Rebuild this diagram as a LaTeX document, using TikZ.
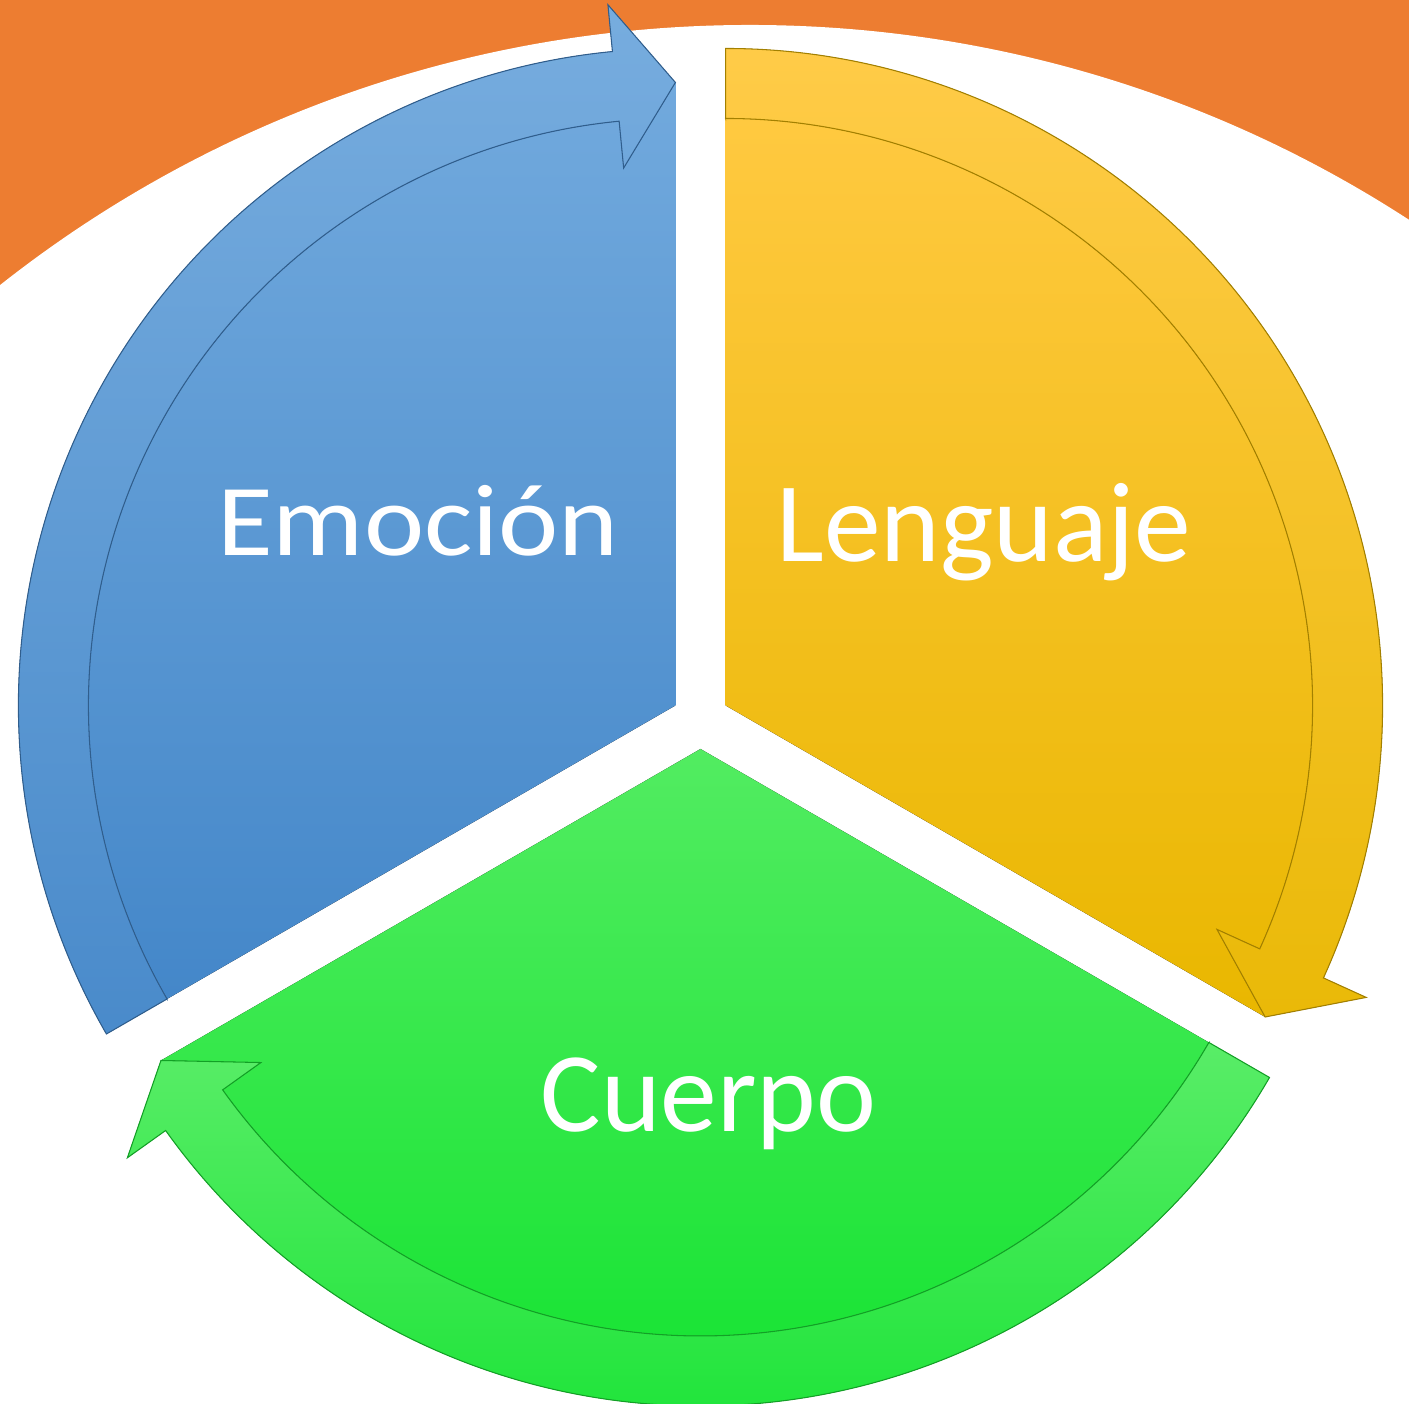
\documentclass[tikz,border=0pt]{standalone}
\usepackage{fontspec}
\setmainfont{Carlito}
\definecolor{orangebg}{HTML}{ED7D31}
\definecolor{bluetop}{HTML}{71A9DD}
\definecolor{bluebot}{HTML}{4487C9}
\definecolor{yellowtop}{HTML}{FFC940}
\definecolor{yellowbot}{HTML}{E9B700}
\definecolor{greentop}{HTML}{52EC61}
\definecolor{greenbot}{HTML}{1BE436}
\tikzset{
  segbody/.style={shading=axis,shading angle=0,top color=#1top,bottom color=#1bot},
  segband/.style={shading=axis,shading angle=0,top color=#1top!96!white,bottom color=#1bot!97!white,
    draw=#1bot!70!black,line width=0.3pt},
  seglabel/.style={anchor=base,text=white,font=\fontsize{32.3}{36}\selectfont}
}
\begin{document}
\begin{tikzpicture}
\useasboundingbox (0,0) rectangle (14.09,14.04);
% background
\begin{scope}
\clip (0,0) rectangle (14.09,14.04);
\fill[orangebg] (0,0) rectangle (14.09,14.04);
\fill[white] (7.50,1.68) circle (12.11);
\end{scope}
% Emocion
\begin{scope}[shift={(6.754,6.985)}]
\fill[segbody=blue] (0,0) -- (210:5.87) arc[start angle=210,end angle=95.5,radius=5.87] -- (90:6.23) -- cycle;
\filldraw[segband=blue] (210:5.87) -- (210:6.57) arc[start angle=210,end angle=95.5,radius=6.57]
  -- (95.5:7.04) -- (90:6.23) -- (95.5:5.40) -- (95.5:5.87)
  arc[start angle=95.5,end angle=210,radius=5.87] -- cycle;
\end{scope}
% Lenguaje
\begin{scope}[shift={(7.256,6.985)}]
\fill[segbody=yellow] (0,0) -- (90:5.87) arc[start angle=90,end angle=-24.5,radius=5.87] -- (-30:6.23) -- cycle;
\filldraw[segband=yellow] (90:5.87) -- (90:6.57) arc[start angle=90,end angle=-24.5,radius=6.57]
  -- (-24.5:7.04) -- (-30:6.23) -- (-24.5:5.40) -- (-24.5:5.87)
  arc[start angle=-24.5,end angle=90,radius=5.87] -- cycle;
\end{scope}
% Cuerpo
\begin{scope}[shift={(7.005,6.55)}]
\fill[segbody=green] (0,0) -- (330:5.87) arc[start angle=330,end angle=215.5,radius=5.87] -- (210:6.23) -- cycle;
\filldraw[segband=green] (330:5.87) -- (330:6.57) arc[start angle=330,end angle=215.5,radius=6.57]
  -- (215.5:7.04) -- (210:6.23) -- (215.5:5.40) -- (215.5:5.87)
  arc[start angle=215.5,end angle=330,radius=5.87] -- cycle;
\end{scope}
\node (emocion) at (4.18,8.48) [seglabel,font=\fontsize{29}{34}\selectfont,xscale=1.12] {Emoción};
\node (lenguaje) at (9.84,8.42) [seglabel] {Lenguaje};
\node (cuerpo) at (7.085,2.72) [seglabel] {Cuerpo};
\end{tikzpicture}
\end{document}
